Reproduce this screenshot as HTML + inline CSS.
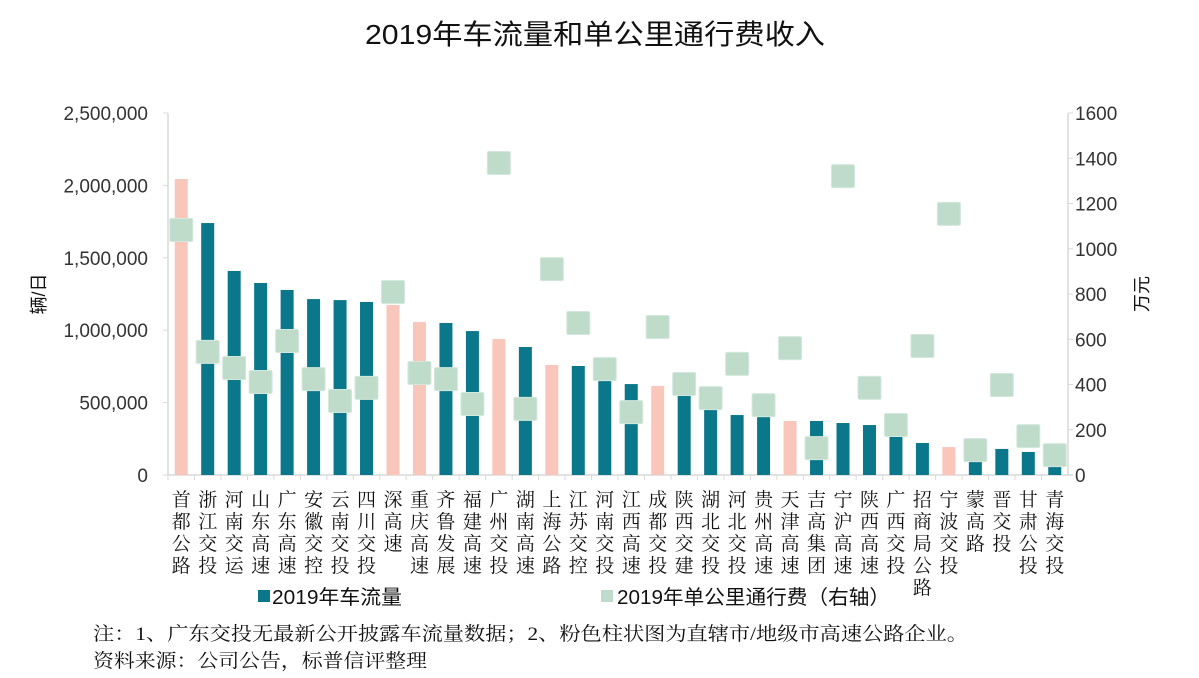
<!DOCTYPE html>
<html><head><meta charset="utf-8"><style>
body{margin:0;background:#fff;}
svg text{font-family:"Liberation Sans","Noto Sans CJK SC",sans-serif;}
svg text.serif{font-family:"Liberation Serif","Noto Serif CJK SC",serif;}
</style></head><body>
<svg id="chart" width="1199" height="673" xmlns="http://www.w3.org/2000/svg">
<text x="365" y="44" textLength="460" lengthAdjust="spacingAndGlyphs" font-size="28" fill="#111">2019年车流量和单公里通行费收入</text>
<g id="axes"></g><g id="bars"></g><g id="markers"></g><g id="labels"></g>
<text transform="translate(45,294) rotate(-90)" text-anchor="middle" font-size="18" fill="#111">辆/日</text>
<text transform="translate(1148,294) rotate(-90)" text-anchor="middle" font-size="18" fill="#111">万元</text>
<g>
<rect x="258" y="590" width="12" height="12" fill="#0a778a"/>
<text x="272" y="604" textLength="130" lengthAdjust="spacingAndGlyphs" font-size="20" fill="#111">2019年车流量</text>
<rect x="601" y="590" width="12" height="12" fill="#bfdccb"/>
<text x="617" y="604" textLength="273" lengthAdjust="spacingAndGlyphs" font-size="20" fill="#111">2019年单公里通行费（右轴）</text>
</g>
<text class="serif" x="93" y="640" textLength="875" lengthAdjust="spacingAndGlyphs" font-size="19" fill="#111">注：1、广东交投无最新公开披露车流量数据；2、粉色柱状图为直辖市/地级市高速公路企业。</text>
<text class="serif" x="93" y="667" textLength="334" lengthAdjust="spacingAndGlyphs" font-size="19" fill="#111">资料来源：公司公告，标普信评整理</text>
</svg>
<script>
const categories=["首都公路","浙江交投","河南交运","山东高速","广东高速","安徽交控","云南交投","四川交投","深高速","重庆高速","齐鲁发展","福建高速","广州交投","湖南高速","上海公路","江苏交控","河南交投","江西高速","成都交投","陕西交建","湖北交投","河北交投","贵州高速","天津高速","吉高集团","宁沪高速","陕西高速","广西交投","招商局公路","宁波交投","蒙高路","晋交投","甘肃公投","青海交投"];
const traffic=[2044000,1740000,1409000,1326000,1278000,1215000,1208000,1195000,1174000,1057000,1050000,994000,939000,884000,760000,753000,649000,628000,615000,580000,500000,414000,400000,373000,373000,359000,345000,290000,221000,193000,120000,180000,159000,70000];
const tollFee=[1083,544,473,411,592,424,327,385,809,451,424,314,1379,292,910,672,468,278,654,402,340,491,309,561,119,1321,385,221,570,1154,110,398,172,88];
const isCity=[1,0,0,0,0,0,0,0,1,1,0,0,1,0,1,0,0,0,1,0,0,0,0,1,0,0,0,0,0,1,0,0,0,0];
const leftTicks=[0,500000,1000000,1500000,2000000,2500000];
const rightTicks=[0,200,400,600,800,1000,1200,1400,1600];
const X0=168,X1=1068,Y0=475,Y1=113,NS="http://www.w3.org/2000/svg";
const band=(X1-X0)/categories.length;
const xc=i=>X0+band*(i+0.5);
const yL=v=>Y0-(v/2500000)*(Y0-Y1);
const yR=v=>Y0-(v/1600)*(Y0-Y1);
function mk(tag,attrs,parent,txt){const e=document.createElementNS(NS,tag);for(const k in attrs)e.setAttribute(k,attrs[k]);if(txt!=null)e.textContent=txt;document.getElementById(parent).appendChild(e);return e;}
let e;
e=mk('line',{x1:X0,y1:Y1,x2:X0,y2:Y0,stroke:'#d9d9d9','stroke-width':1.5},'axes');


e=mk('line',{x1:X1,y1:Y1,x2:X1,y2:Y0,stroke:'#d9d9d9','stroke-width':1.5},'axes');


e=mk('line',{x1:X0,y1:Y0,x2:X1+5,y2:Y0,stroke:'#d9d9d9','stroke-width':1.5},'axes');


leftTicks.forEach(v=>{
 e=mk('line',{x1:X0-5,y1:yL(v),x2:X0,y2:yL(v),stroke:'#d9d9d9'},'axes');
 
 
 e=mk('text',{x:148,y:yL(v)+7,'text-anchor':'end','font-size':19,fill:'#333'},'axes',v.toLocaleString('en-US'));
 
 
});
rightTicks.forEach(v=>{
 e=mk('line',{x1:X1,y1:yR(v),x2:X1+5,y2:yR(v),stroke:'#d9d9d9'},'axes');
 
 
 e=mk('text',{x:1075,y:yR(v)+7,'font-size':19,fill:'#333'},'axes',String(v));
 
 
});
categories.forEach((c,i)=>{
 e=mk('line',{x1:X0+band*i,y1:Y0,x2:X0+band*i,y2:Y0+5,stroke:'#d9d9d9'},'axes');
 
 
 e=mk('rect',{x:xc(i)-6.5,y:yL(traffic[i]),width:13,height:Y0-yL(traffic[i]),fill:isCity[i]?'#f8c6bb':'#0a778a'},'bars');
 
 
 e=mk('rect',{x:xc(i)-11.5,y:yR(tollFee[i])-11.5,width:23,height:23,rx:1.5,fill:'#bfdccb',stroke:'#d3e8dc','stroke-width':1},'markers');
 
 
 const t=mk('text',{x:xc(i),'text-anchor':'middle','font-size':19,fill:'#111',class:'serif'},'labels');
 
 
 [...c].forEach((ch,k)=>{const s=document.createElementNS(NS,'tspan');s.setAttribute('x',xc(i));s.setAttribute('y',506+k*22);s.textContent=ch;t.appendChild(s);});
});
</script>
</body></html>
